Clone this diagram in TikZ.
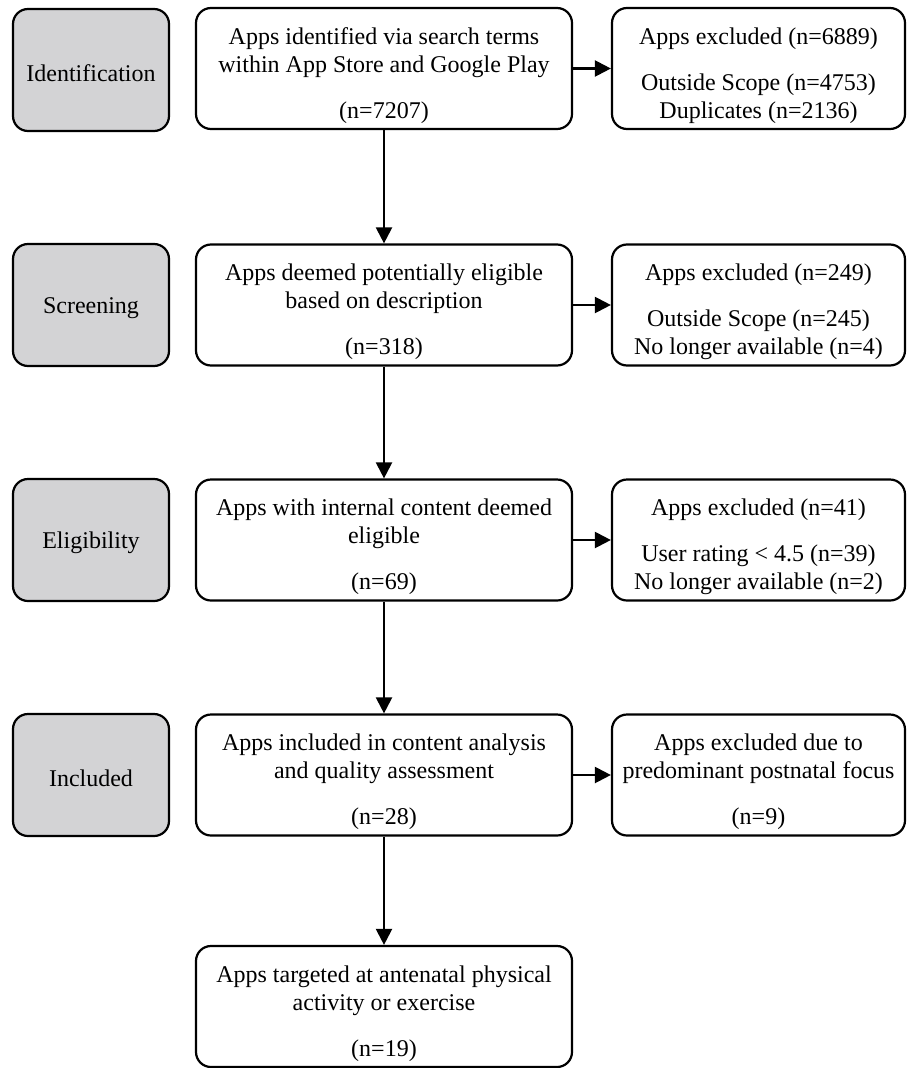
\documentclass[tikz,border=0pt]{standalone}
\usepackage{fontspec}
\setmainfont{Liberation Serif}
\usetikzlibrary{arrows.meta}
\definecolor{phasegray}{RGB}{211,211,213}
\newcommand{\boxtext}[1]{\raisebox{-7pt}[\height][\depth]{\begin{tabular}{@{}c@{}}#1\end{tabular}}}
\newcommand{\phasetext}[1]{\raisebox{-3pt}[\height][\depth]{#1}}
\begin{document}
\begin{tikzpicture}[x=1pt,y=-1pt,
 every node/.style={font=\fontsize{24}{28}\selectfont},
 base/.style={draw=black, line width=2.2pt, rounded corners=15pt, inner sep=0pt, align=center},
 phase/.style={base, fill=phasegray, minimum width=156pt, minimum height=122pt},
 mainbox/.style={base, fill=white, minimum width=376pt, minimum height=121pt},
 sidebox/.style={base, fill=white, minimum width=293pt, minimum height=121pt},
 arr/.style={line width=2.2pt, -{Triangle[length=16pt,width=16pt]}}
]
\useasboundingbox (0,0) rectangle (908,1068);

% phase labels
\node[phase] (p1) at (91,70) {\phasetext{Identification}};
\node[phase] (p2) at (91,305) {\phasetext{Screening}};
\node[phase] (p3) at (91,540) {\phasetext{Eligibility}};
\node[phase] (p4) at (91,775) {\phasetext{Included}};

% main column
\node[mainbox] (m1) at (384,68.5) {\boxtext{Apps identified via search terms\\within App Store and Google Play\\[18pt](n=7207)}};
\node[mainbox] (m2) at (384,305) {\boxtext{Apps deemed potentially eligible\\based on description\\[18pt](n=318)}};
\node[mainbox] (m3) at (384,540) {\boxtext{Apps with internal content deemed\\eligible\\[18pt](n=69)}};
\node[mainbox] (m4) at (384,775) {\boxtext{Apps included in content analysis\\and quality assessment\\[18pt](n=28)}};
\node[mainbox] (m5) at (384,1006.5) {\boxtext{Apps targeted at antenatal physical\\activity or exercise\\[18pt](n=19)}};

% side column
\node[sidebox] (s1) at (758.5,68.5) {\boxtext{Apps excluded (n=6889)\\[18pt]Outside Scope (n=4753)\\Duplicates (n=2136)}};
\node[sidebox] (s2) at (758.5,305) {\boxtext{Apps excluded (n=249)\\[18pt]Outside Scope (n=245)\\No longer available (n=4)}};
\node[sidebox] (s3) at (758.5,540) {\boxtext{Apps excluded (n=41)\\[18pt]User rating < 4.5 (n=39)\\No longer available (n=2)}};
\node[sidebox] (s4) at (758.5,775) {\boxtext{Apps excluded due to\\predominant postnatal focus\\[18pt](n=9)}};

% connectors
\draw[arr] (m1.south) -- (m2.north);
\draw[arr] (m2.south) -- (m3.north);
\draw[arr] (m3.south) -- (m4.north);
\draw[arr] (m4.south) -- (m5.north);
\draw[arr] (m1.east) -- (s1.west);
\draw[arr] (m2.east) -- (s2.west);
\draw[arr] (m3.east) -- (s3.west);
\draw[arr] (m4.east) -- (s4.west);
\end{tikzpicture}
\end{document}
